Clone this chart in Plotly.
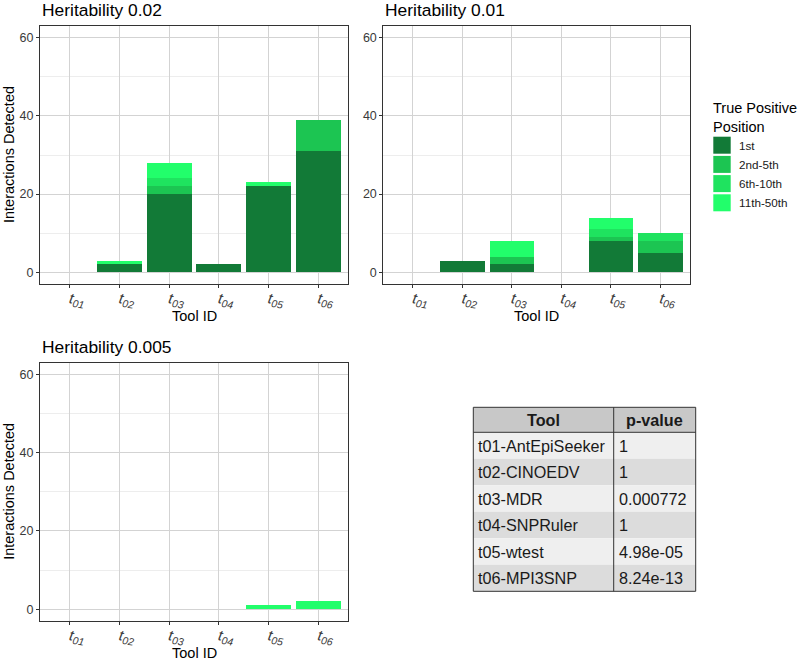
import plotly.graph_objects as go

# ---------------- data ----------------
tools = ["t01", "t02", "t03", "t04", "t05", "t06"]
tool_ticks = ["<i>t<sub>01</sub></i>", "<i>t<sub>02</sub></i>", "<i>t<sub>03</sub></i>",
              "<i>t<sub>04</sub></i>", "<i>t<sub>05</sub></i>", "<i>t<sub>06</sub></i>"]
positions = ["1st", "2nd-5th", "6th-10th", "11th-50th"]
pos_colors = ["#127A37", "#1CC552", "#1FE35F", "#22FE6B"]

h002_1st = [0, 2, 20, 2, 22, 31]
h002_2to5 = [0, 0, 2, 0, 0, 8]
h002_6to10 = [0, 0, 2, 0, 0, 0]
h002_11to50 = [0, 1, 4, 0, 1, 0]

h001_1st = [0, 3, 2, 0, 8, 5]
h001_2to5 = [0, 0, 2, 0, 1, 3]
h001_6to10 = [0, 0, 0, 0, 2, 2]
h001_11to50 = [0, 0, 4, 0, 3, 0]

h0005_1st = [0, 0, 0, 0, 0, 0]
h0005_2to5 = [0, 0, 0, 0, 0, 0]
h0005_6to10 = [0, 0, 0, 0, 0, 0]
h0005_11to50 = [0, 0, 0, 0, 1, 2]

panel_titles = ["Heritability 0.02", "Heritability 0.01", "Heritability 0.005"]
y_ticks = [0, 20, 40, 60]
y_minor = [10, 30, 50]

table_tools = ["t01-AntEpiSeeker", "t02-CINOEDV", "t03-MDR", "t04-SNPRuler", "t05-wtest", "t06-MPI3SNP"]
table_pvals = ["1", "1", "0.000772", "1", "4.98e-05", "8.24e-13"]
table_header = ["Tool", "p-value"]

# ---------------- layout helpers ----------------
W, H = 800, 661
FONT = "Liberation Sans, Arial, sans-serif"


def px_x(x):
    return x / W


def px_y(y):
    return 1 - y / H


panels = [
    dict(series=[h002_1st, h002_2to5, h002_6to10, h002_11to50], x=(40, 348), y=(26, 284), ytitle=True),
    dict(series=[h001_1st, h001_2to5, h001_6to10, h001_11to50], x=(383.3, 690), y=(26, 284), ytitle=False),
    dict(series=[h0005_1st, h0005_2to5, h0005_6to10, h0005_11to50], x=(40, 348), y=(362.7, 621), ytitle=True),
]

fig = go.Figure()
annotations = []
shapes = []

for i, p in enumerate(panels):
    sfx = "" if i == 0 else str(i + 1)
    for name, vals, col in zip(positions, p["series"], pos_colors):
        fig.add_trace(go.Bar(
            x=tools, y=vals, name=name, marker=dict(color=col, line=dict(width=0)),
            width=0.9, showlegend=False, xaxis="x" + sfx, yaxis="y" + sfx,
        ))
    xa = dict(
        domain=[px_x(p["x"][0]), px_x(p["x"][1])], anchor="y" + sfx,
        type="category", categoryorder="array", categoryarray=tools,
        range=[-0.6, 5.6], tickvals=tools, ticktext=tool_ticks, tickangle=10,
        tickfont=dict(family=FONT, size=15, color="#3A3A3A"), ticklabelstandoff=-3,
        showgrid=True, gridcolor="#D3D3D3", gridwidth=1,
        showline=True, linecolor="#333333", linewidth=1, mirror=True,
        ticks="outside", ticklen=3, tickcolor="#333333", automargin=False,
        fixedrange=True,
    )
    ya = dict(
        domain=[px_y(p["y"][1]), px_y(p["y"][0])], anchor="x" + sfx,
        range=[-3, 63], tickvals=y_ticks,
        tickfont=dict(family=FONT, size=12.5, color="#3A3A3A"),
        showgrid=True, gridcolor="#D3D3D3", gridwidth=1, zeroline=False,
        minor=dict(tickvals=y_minor, showgrid=True, gridcolor="#EDEDED", gridwidth=1, ticklen=0),
        showline=True, linecolor="#333333", linewidth=1, mirror=True,
        ticks="outside", ticklen=3, tickcolor="#333333", automargin=False,
        fixedrange=True,
    )
    fig.update_layout(**{"xaxis" + sfx: xa, "yaxis" + sfx: ya})

    # panel title
    annotations.append(dict(
        text=panel_titles[i], xref="paper", yref="paper",
        x=px_x(p["x"][0]), y=px_y(p["y"][0] - 16), xanchor="left", yanchor="middle",
        showarrow=False, font=dict(family=FONT, size=17.4, color="#000000"),
    ))
    # x title
    annotations.append(dict(
        text="Tool ID", xref="paper", yref="paper",
        x=px_x((p["x"][0] + p["x"][1]) / 2), y=px_y(p["y"][1] + 32),
        xanchor="center", yanchor="middle", showarrow=False,
        font=dict(family=FONT, size=14.5, color="#000000"),
    ))
    if p["ytitle"]:
        annotations.append(dict(
            text="Interactions Detected", xref="paper", yref="paper",
            x=px_x(9), y=px_y((p["y"][0] + p["y"][1]) / 2), textangle=-90,
            xanchor="center", yanchor="middle", showarrow=False,
            font=dict(family=FONT, size=14.5, color="#000000"),
        ))

fig.update_layout(barmode="stack")

# ---------------- manual legend ----------------
annotations.append(dict(
    text="True Positive<br>Position", xref="paper", yref="paper",
    x=px_x(711), y=px_y(98), xanchor="left", yanchor="top", align="left",
    showarrow=False, font=dict(family=FONT, size=14.5, color="#000000"),
))
key_top = 136.7
for k, (name, col) in enumerate(zip(positions, pos_colors)):
    y0 = key_top + k * 19.2
    shapes.append(dict(type="rect", xref="paper", yref="paper",
                       x0=px_x(713.3), x1=px_x(730.7), y0=px_y(y0), y1=px_y(y0 + 17),
                       fillcolor=col, line=dict(width=0)))
    annotations.append(dict(
        text=name, xref="paper", yref="paper", x=px_x(737), y=px_y(y0 + 8.5),
        xanchor="left", yanchor="middle", showarrow=False,
        font=dict(family=FONT, size=11.7, color="#1A1A1A"),
    ))

# ---------------- table (drawn from the lists) ----------------
tx0, tx1, ty0 = 473.3, 695.7, 407.3
col_split = 613.7
head_h, row_h = 25, 26.5
TFONT = 16.2
ty1 = ty0 + head_h + row_h * len(table_tools)

shapes.append(dict(type="rect", xref="paper", yref="paper",
                   x0=px_x(tx0), x1=px_x(tx1), y0=px_y(ty0 + head_h), y1=px_y(ty0),
                   fillcolor="#C8C8C8", line=dict(width=0), layer="below"))
for r, (tname, pval) in enumerate(zip(table_tools, table_pvals)):
    r0 = ty0 + head_h + r * row_h
    shapes.append(dict(type="rect", xref="paper", yref="paper",
                       x0=px_x(tx0), x1=px_x(tx1), y0=px_y(r0 + row_h), y1=px_y(r0),
                       fillcolor="#EFEFEF" if r % 2 == 0 else "#DCDCDC",
                       line=dict(width=0), layer="below"))
    for txt, xx in ((tname, tx0 + 2.5), (pval, col_split + 3)):
        annotations.append(dict(
            text=txt, xref="paper", yref="paper", x=px_x(xx), y=px_y(r0 + row_h / 2),
            xanchor="left", yanchor="middle", showarrow=False,
            font=dict(family=FONT, size=TFONT, color="#1A1A1A"),
        ))
for txt, xc in zip(table_header, ((tx0 + col_split) / 2, (col_split + tx1) / 2)):
    annotations.append(dict(
        text="<b>%s</b>" % txt, xref="paper", yref="paper", x=px_x(xc),
        y=px_y(ty0 + head_h / 2), xanchor="center", yanchor="middle", showarrow=False,
        font=dict(family=FONT, size=TFONT, color="#1A1A1A"),
    ))
shapes.append(dict(type="rect", xref="paper", yref="paper",
                   x0=px_x(tx0), x1=px_x(tx1), y0=px_y(ty1), y1=px_y(ty0),
                   line=dict(color="#333333", width=1)))
shapes.append(dict(type="line", xref="paper", yref="paper",
                   x0=px_x(col_split), x1=px_x(col_split), y0=px_y(ty1), y1=px_y(ty0),
                   line=dict(color="#333333", width=1)))
shapes.append(dict(type="line", xref="paper", yref="paper",
                   x0=px_x(tx0), x1=px_x(tx1), y0=px_y(ty0 + head_h), y1=px_y(ty0 + head_h),
                   line=dict(color="#333333", width=1)))

fig.update_layout(
    width=W, height=H, margin=dict(l=0, r=0, t=0, b=0),
    paper_bgcolor="white", plot_bgcolor="white",
    annotations=annotations, shapes=shapes, showlegend=False,
    font=dict(family=FONT),
)

fig.write_html("out.html", config={"displayModeBar": False},
               post_script="document.body.style.margin='0';document.body.style.overflow='hidden';")
